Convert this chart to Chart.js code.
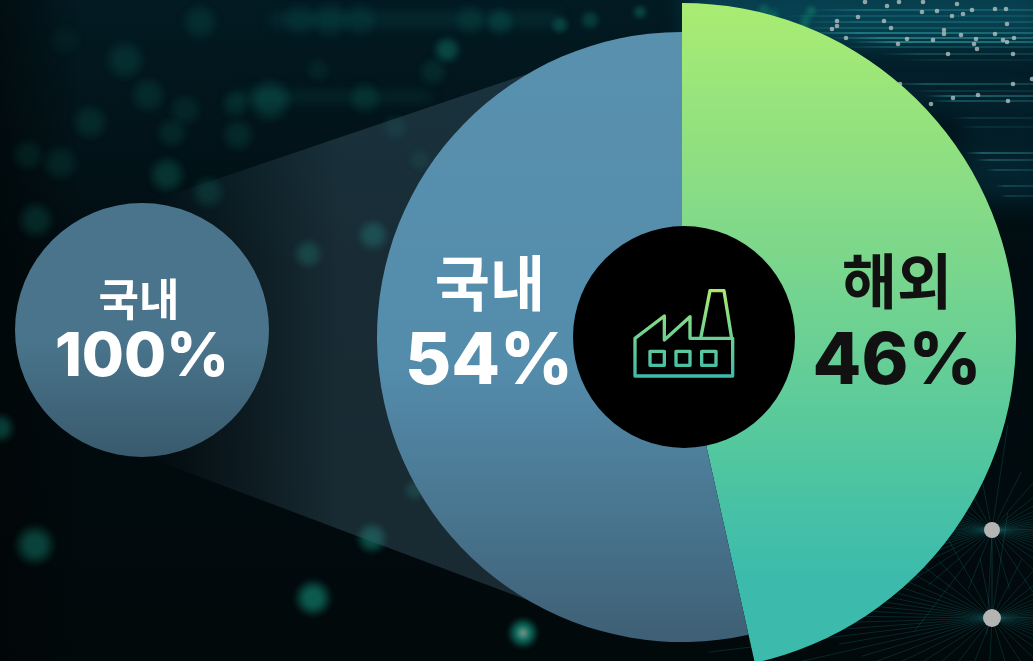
<!DOCTYPE html>
<html lang="ko">
<head>
  <meta charset="UTF-8">
  <title>국내 해외 비중</title>
  <style>
    html, body { margin: 0; padding: 0; background: #010a0d; }
    #stage { position: relative; width: 1033px; height: 661px; overflow: hidden; }
    #stage canvas, #stage svg { position: absolute; }
    #bg { left: 0; top: 0; }
    #small-pie { left: 15px; top: 203px; }
    #main-pie { left: 348px; top: 3px; }
    #hub { left: 570px; top: 220px; }
    .label { position: absolute; transform: translate(-50%, -50%); white-space: nowrap; line-height: 1; }
    .name { font-family: "Noto Sans CJK KR", sans-serif; font-weight: 700; }
    .pct { font-family: Inter, sans-serif; font-weight: 800; }
  </style>
</head>
<body>
  <div id="stage">
    <canvas id="bg" width="1033" height="661"></canvas>
    <canvas id="small-pie" width="254" height="254"></canvas>
    <canvas id="main-pie" width="668" height="668"></canvas>
    <svg id="hub" width="230" height="230" viewBox="0 0 690 690">
      <defs>
        <linearGradient id="iconStroke" gradientUnits="userSpaceOnUse" x1="0" y1="210" x2="0" y2="470">
          <stop offset="0" stop-color="#a8ea72"/>
          <stop offset="1" stop-color="#3cbbad"/>
        </linearGradient>
      </defs>
      <circle cx="342" cy="351" r="333" fill="#000"/>
      <g fill="none" stroke="url(#iconStroke)" stroke-width="10" stroke-linejoin="round">
        <path d="M195 355 L283 288 L283 360 L360 290 L360 355 L488 355 L488 468 L195 468 Z"/>
        <path d="M392 355 L420 212 L462 212 L485 355"/>
        <rect x="240" y="394" width="43" height="42"/>
        <rect x="318" y="394" width="42" height="42"/>
        <rect x="395" y="394" width="43" height="42"/>
      </g>
    </svg>
    <div class="label name" id="l-small-name" style="left:139px;top:297px;font-size:44px;color:#fff"></div>
    <div class="label pct" id="l-small-pct" style="left:142px;top:354px;font-size:61px;color:#fff"></div>
    <div class="label name" id="l-dom-name" style="left:490px;top:280px;font-size:60px;color:#fff"></div>
    <div class="label pct" id="l-dom-pct" style="left:489px;top:358px;font-size:71px;color:#fff"></div>
    <div class="label name" id="l-over-name" style="left:897px;top:278px;font-size:60px;color:#111"></div>
    <div class="label pct" id="l-over-pct" style="left:897px;top:358px;font-size:71px;color:#111"></div>
  </div>

  <script src="https://cdn.jsdelivr.net/npm/chart.js@4"></script>
  <script>
    // chart values. the wedge measures a little over its printed 46%
    const mainCategories = ["해외", "국내"];
    const mainValues = [46.5, 53.5];
    const mainPrinted = ["46%", "54%"];
    const smallCategories = ["국내"];
    const smallValues = [100];
    const smallPrinted = ["100%"];

    // outer radius per slice of the big pie
    const mainRadii = [334, 305];

    // background specks: x, y, radius, strength
    const bokeh = [
      [200,22,20,.2],[65,40,18,.08],[125,60,22,.22],[148,95,20,.2],[185,110,18,.16],[270,100,24,.3],
      [235,105,16,.18],[90,122,20,.2],[172,133,17,.18],[238,135,18,.2],[28,155,18,.16],[60,163,20,.18],
      [167,175,20,.32],[208,192,18,.26],[36,220,20,.26],[373,235,17,.5],[308,254,16,.4],[447,50,15,.45],
      [395,127,14,.18],[365,98,18,.2],[420,160,12,.18],[433,72,16,.18],[318,70,14,.12],[300,20,20,.13],
      [330,20,22,.16],[360,20,20,.15],[470,20,18,.16],[500,22,16,.25],[35,545,22,.5],[372,538,17,.6],
      [313,598,20,.7],[0,428,16,.45],[415,490,12,.35],[523,633,16,.95],[560,25,10,.4],[590,20,11,.35],
      [640,12,8,.45],[764,10,7,.55],[773,15,7,.55],[811,11,6,.7],[806,19,6,.6],[804,26,6,.6]
    ];
    const specks = [
      [865,2],[887,6],[899,2],[923,2],[957,4],[922,12],[937,11],[952,16],[963,14],[972,10],[995,9],[1006,9],
      [858,17],[837,21],[837,26],[832,29],[884,21],[891,28],[1007,24],[944,30],[944,34],[961,35],[995,34],
      [846,38],[907,39],[933,40],[976,39],[1003,40],[1007,42],[1014,38],[898,44],[974,44],[977,49],[948,54],
      [1013,54],[900,84],[1013,84],[1032,79],[931,104],[953,98],[978,95],[1008,101]
    ];
    // streaks top right: y, start x, strength
    const streaks = [
      [10,810,.4],[16,780,.25],[22,800,.35],[28,790,.3],[33,800,.6],[38,830,.65],[42,850,.7],[47,840,.3],
      [54,880,.3],[60,900,.15],[84,890,.4],[91,910,.2],[96,925,.55],[101,930,.4],[118,950,.2],
      [127,960,.15],[153,965,.5],[160,975,.4],[170,985,.3],[186,995,.3],[196,1000,.25]
    ];
    // the two large nodes bottom right
    const nodes = [[992,530,8],[992,618,9]];

    function drawBackground() {
      const ctx = document.getElementById("bg").getContext("2d");
      const base = ctx.createLinearGradient(0, 0, 0, 661);
      base.addColorStop(0, "#021a22");
      base.addColorStop(0.2, "#02141a");
      base.addColorStop(0.4, "#010c10");
      base.addColorStop(1, "#01090b");
      ctx.fillStyle = base;
      ctx.fillRect(0, 0, 1033, 661);

      const left = ctx.createLinearGradient(0, 0, 80, 0);
      left.addColorStop(0, "rgba(0,5,6,.6)");
      left.addColorStop(1, "rgba(0,5,6,0)");
      ctx.fillStyle = left;
      ctx.fillRect(0, 0, 80, 661);

      // blurry bands
      ctx.filter = "blur(6px)";
      ctx.fillStyle = "rgba(6,60,62,.45)";
      ctx.fillRect(270, 12, 290, 14);
      ctx.fillRect(230, 92, 200, 10);
      ctx.filter = "blur(14px)";
      ctx.fillStyle = "rgba(8,72,88,.85)";
      ctx.fillRect(690, -20, 360, 70);
      ctx.fillStyle = "rgba(6,50,66,.6)";
      ctx.fillRect(860, 80, 190, 30);
      ctx.fillRect(960, 145, 90, 55);
      ctx.fillStyle = "rgba(4,34,46,.7)";
      ctx.fillRect(840, 55, 200, 30);
      ctx.fillRect(960, 105, 90, 45);

      ctx.filter = "blur(2px)";
      bokeh.forEach(([x, y, r, a]) => {
        const g = ctx.createRadialGradient(x, y, r * 0.4, x, y, r);
        g.addColorStop(0, `rgba(18,125,108,${a})`);
        g.addColorStop(1, "rgba(18,125,108,0)");
        ctx.fillStyle = g;
        ctx.beginPath();
        ctx.arc(x, y, r, 0, Math.PI * 2);
        ctx.fill();
      });
      ctx.fillStyle = "rgba(190,160,150,.6)";
      ctx.beginPath();
      ctx.arc(523, 633, 4, 0, Math.PI * 2);
      ctx.fill();

      ctx.filter = "blur(.7px)";
      streaks.forEach(([y, x, a]) => {
        const g = ctx.createLinearGradient(x, 0, 1033, 0);
        g.addColorStop(0, "rgba(60,190,195,0)");
        g.addColorStop(0.25, `rgba(60,190,195,${a})`);
        g.addColorStop(1, `rgba(60,190,195,${a * 0.7})`);
        ctx.strokeStyle = g;
        ctx.lineWidth = 1.4;
        ctx.beginPath();
        ctx.moveTo(x, y);
        ctx.lineTo(1033, y);
        ctx.stroke();
      });

      // web of faint lines round the two nodes
      ctx.lineWidth = 1;
      nodes.forEach(([x, y]) => {
        for (let deg = 0; deg < 360; deg += 7) {
          const a = deg * Math.PI / 180;
          const reach = deg % 2 ? 300 : 170;
          ctx.strokeStyle = "rgba(40,160,165,.2)";
          ctx.beginPath();
          ctx.moveTo(x, y);
          ctx.lineTo(x + Math.cos(a) * reach, y + Math.sin(a) * reach * 0.35);
          ctx.stroke();
        }
      });
      ctx.strokeStyle = "rgba(40,150,150,.3)";
      ctx.beginPath();
      ctx.moveTo(992, 530);
      ctx.lineTo(992, 618);
      ctx.stroke();
      ctx.filter = "none";

      ctx.fillStyle = "rgba(200,205,205,.72)";
      specks.forEach(([x, y]) => {
        ctx.beginPath();
        ctx.arc(x, y, 2.3, 0, Math.PI * 2);
        ctx.fill();
      });
      ctx.fillStyle = "#b4b4b2";
      nodes.forEach(([x, y, r]) => {
        ctx.beginPath();
        ctx.arc(x, y, r, 0, Math.PI * 2);
        ctx.fill();
      });

      // funnel from the small circle to the big one
      const funnel = ctx.createLinearGradient(150, 0, 340, 0);
      funnel.addColorStop(0, "rgba(62,95,112,0)");
      funnel.addColorStop(1, "rgba(62,95,112,.38)");
      ctx.fillStyle = funnel;
      ctx.beginPath();
      ctx.moveTo(155, 200);
      ctx.lineTo(530, 73);
      ctx.lineTo(530, 601);
      ctx.lineTo(147, 457);
      ctx.closePath();
      ctx.fill();
    }

    function vertical(ctx, y0, y1, stops) {
      const g = ctx.createLinearGradient(0, y0, 0, y1);
      stops.forEach(([at, colour]) => g.addColorStop(at, colour));
      return g;
    }

    // sets a different outer radius for each slice
    const sliceRadius = {
      id: "sliceRadius",
      beforeDatasetsDraw(chart, args, opts) {
        if (!opts.radii) return;
        chart.getDatasetMeta(0).data.forEach((arc, i) => { arc.outerRadius = opts.radii[i]; });
      }
    };

    const pieOptions = (radii) => ({
      responsive: false,
      animation: false,
      events: [],
      layout: { padding: 0 },
      plugins: { legend: { display: false }, tooltip: { enabled: false }, sliceRadius: { radii } }
    });

    const mainCtx = document.getElementById("main-pie").getContext("2d");
    new Chart(mainCtx, {
      type: "pie",
      plugins: [sliceRadius],
      data: {
        labels: mainCategories,
        datasets: [{
          data: mainValues,
          borderWidth: 0,
          backgroundColor: [
            // canvas top is y=3 on the page
            vertical(mainCtx, 2, 657, [[0, "#a9ec72"], [0.36, "#7fd88a"], [0.7, "#50c6a0"], [0.87, "#3cbbad"], [1, "#3cbbad"]]),
            vertical(mainCtx, 29, 639, [[0, "#5890ae"], [0.55, "#548cab"], [0.8, "#48748e"], [1, "#3e5f74"]])
          ]
        }]
      },
      options: pieOptions(mainRadii)
    });

    const smallCtx = document.getElementById("small-pie").getContext("2d");
    new Chart(smallCtx, {
      type: "pie",
      data: {
        labels: smallCategories,
        datasets: [{
          data: smallValues,
          borderWidth: 0,
          backgroundColor: [vertical(smallCtx, 0, 254, [[0, "#49748b"], [0.55, "#49748b"], [1, "#395a6d"]])]
        }]
      },
      options: pieOptions(null)
    });

    drawBackground();

    document.getElementById("l-small-name").textContent = smallCategories[0];
    document.getElementById("l-small-pct").textContent = smallPrinted[0];
    document.getElementById("l-dom-name").textContent = mainCategories[1];
    document.getElementById("l-dom-pct").textContent = mainPrinted[1];
    document.getElementById("l-over-name").textContent = mainCategories[0];
    document.getElementById("l-over-pct").textContent = mainPrinted[0];
  </script>
</body>
</html>
